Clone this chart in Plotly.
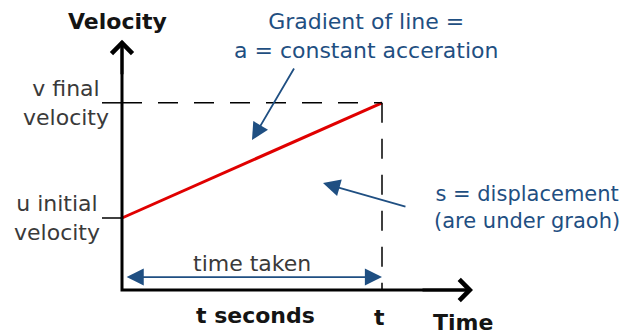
import plotly.graph_objects as go

# Motion with constant acceleration: velocity rises linearly from u to v over time t
time_points = [0, 10]          # start and end time (t)
velocity_points = [4, 10.4]    # u (initial) and v (final) velocity

t_end = time_points[1]
u, v = velocity_points

x_axis_end = 13.5
y_axis_end = 13.9

BLUE = "#1f4f82"
RED = "#e00000"
GREY = "#3a3a3a"
DARK = "#141414"
FONT = "DejaVu Sans"

fig = go.Figure()

# velocity-time line
fig.add_trace(go.Scatter(
    x=time_points, y=velocity_points, mode="lines",
    line=dict(color=RED, width=3), hoverinfo="skip", showlegend=False,
))

# axes drawn as one path so the corner is clean
fig.add_trace(go.Scatter(
    x=[0, 0, x_axis_end - 0.1], y=[y_axis_end - 0.1, 0, 0], mode="lines",
    line=dict(color="black", width=3), hoverinfo="skip", showlegend=False,
))

shapes = [
    # dashed guides to the final velocity and end time
    dict(type="line", x0=0, x1=t_end, y0=v, y1=v,
         line=dict(color="black", width=1.5, dash="20px,16px")),
    dict(type="line", x0=t_end, x1=t_end, y0=v, y1=0,
         line=dict(color="black", width=1.5, dash="20px,16px")),
    # short ticks at u and v on the velocity axis
    dict(type="line", x0=-0.77, x1=0, y0=v, y1=v,
         line=dict(color="black", width=1.5)),
    dict(type="line", x0=-0.77, x1=0, y0=u, y1=u,
         line=dict(color="black", width=1.5)),
]

annotations = []

def arrow(x, y, ax, ay, color, width, head, size, side="end"):
    annotations.append(dict(
        x=x, y=y, ax=ax, ay=ay, xref="x", yref="y", axref="x", ayref="y",
        text="", showarrow=True, arrowhead=head, startarrowhead=head,
        arrowsize=size, startarrowsize=size, arrowwidth=width,
        arrowcolor=color, arrowside=side, standoff=0, startstandoff=0,
    ))

def label(x, y, text, size=22, color=GREY, bold=False, xanchor="center"):
    if bold:
        text = "<b>" + text + "</b>"
    annotations.append(dict(
        x=x, y=y, xref="x", yref="y", text=text, showarrow=False,
        xanchor=xanchor, yanchor="middle", align="center",
        font=dict(family=FONT, size=size, color=color),
    ))

# axis arrowheads
arrow(0, y_axis_end, 0, y_axis_end - 2, "black", 3, 4, 1.35)
arrow(x_axis_end, 0, x_axis_end - 2, 0, "black", 3, 4, 1.35)

# time-taken span arrow
arrow(t_end, 0.72, 0.12, 0.72, BLUE, 1.8, 2, 1.9, side="end+start")

# pointer arrows for the gradient and area notes
arrow(5.0, 8.33, 6.65, 12.39, BLUE, 1.8, 2, 1.9)
arrow(7.73, 5.94, 10.96, 4.61, BLUE, 1.8, 2, 1.9)

# axis titles and labels
label(-0.19, 14.89, "Velocity", color=DARK, bold=True)
label(13.1, -1.83, "Time", color=DARK, bold=True)
label(5.15, -1.39, "t seconds", color=DARK, bold=True)
label(t_end - 0.1, -1.5, "t", color=DARK, bold=True)
label(-2.15, v, "v final<br>velocity")
label(-2.5, u, "u initial<br>velocity")
label(t_end / 2, 1.5, "time taken")

# notes
label(9.38, 14.11, "Gradient of line =<br>a = constant acceration", size=22, color=BLUE)
label(15.58, 4.61, "s = displacement<br>(are under graoh)", size=21, color=BLUE)

fig.update_layout(
    width=632, height=336,
    margin=dict(l=0, r=0, t=0, b=0),
    paper_bgcolor="white", plot_bgcolor="white",
    xaxis=dict(range=[-122 / 26, 510 / 26], visible=False, fixedrange=True),
    yaxis=dict(range=[-46 / 18, 290 / 18], visible=False, fixedrange=True),
    shapes=shapes, annotations=annotations,
    showlegend=False,
)

fig.write_html("out.html", config={"displayModeBar": False})
